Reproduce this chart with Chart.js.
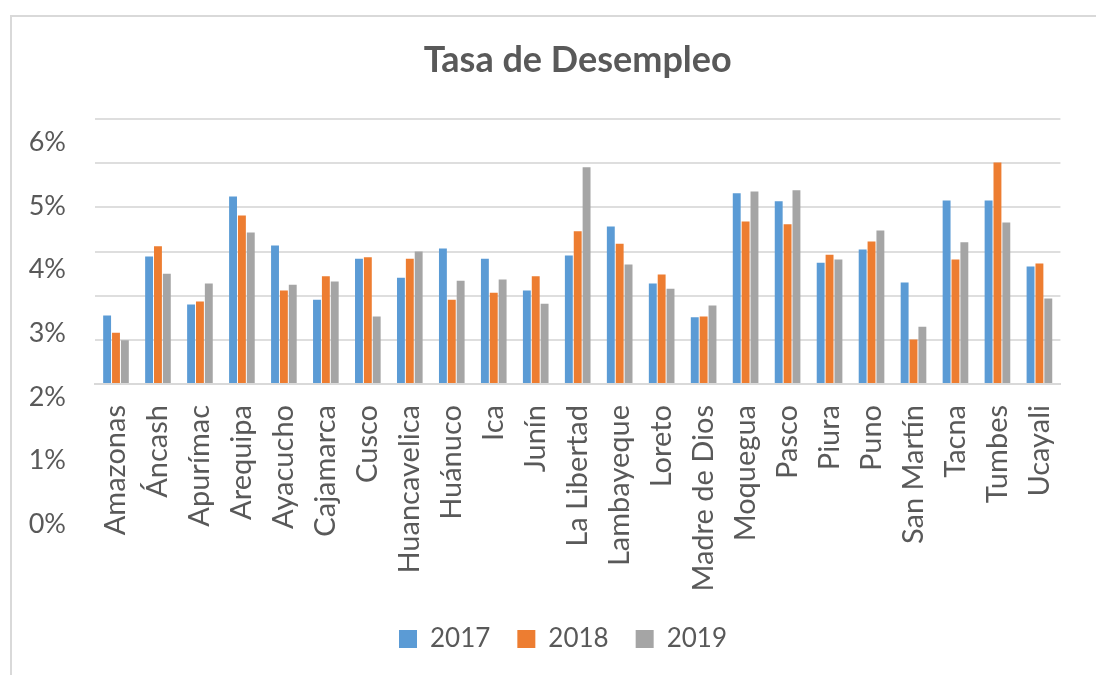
<!DOCTYPE html>
<html lang="es">
<head>
  <meta charset="UTF-8">
  <title>Tasa de Desempleo</title>
  <script src="https://cdn.jsdelivr.net/npm/chart.js"></script>
  <style>
    body { margin: 0; background: #fff; }
    #marco { position: absolute; left: 10px; top: 15px; width: 1200px; height: 800px; border: 2px solid #d9d9d9; }
    #grafico { position: absolute; left: 0; top: 0; }
  </style>
</head>
<body>
  <div id="marco"></div>
  <canvas id="grafico" width="1096" height="675"></canvas>

  <script>
    // datos (tasa en %)
    const regiones = ['Amazonas', 'Áncash', 'Apurímac', 'Arequipa', 'Ayacucho', 'Cajamarca', 'Cusco',
      'Huancavelica', 'Huánuco', 'Ica', 'Junín', 'La Libertad', 'Lambayeque', 'Loreto', 'Madre de Dios',
      'Moquegua', 'Pasco', 'Piura', 'Puno', 'San Martín', 'Tacna', 'Tumbes', 'Ucayali'];
    const anios = ['2017', '2018', '2019'];
    const tasa2017 = [1.55, 2.89, 1.80, 4.25, 3.14, 1.91, 2.84, 2.41, 3.07, 2.84, 2.12, 2.91, 3.57, 2.28, 1.51, 4.32, 4.14, 2.75, 3.05, 2.30, 4.16, 4.16, 2.66];
    const tasa2018 = [1.16, 3.12, 1.87, 3.82, 2.12, 2.44, 2.87, 2.84, 1.91, 2.07, 2.44, 3.46, 3.18, 2.48, 1.53, 3.68, 3.62, 2.93, 3.23, 1.01, 2.82, 5.02, 2.73];
    const tasa2019 = [0.99, 2.50, 2.28, 3.43, 2.25, 2.32, 1.53, 3.00, 2.34, 2.37, 1.82, 4.91, 2.71, 2.16, 1.78, 4.36, 4.39, 2.82, 3.48, 1.30, 3.21, 3.66, 1.94];
    const ejeY = [0, 1, 2, 3, 4, 5, 6];

    const colores = ['#5B9BD5', '#ED7D31', '#A5A5A5'];
    const gris = '#595959';

    // etiquetas del eje Y (en el original quedan desfasadas de la cuadricula)
    const etiquetasY = {
      id: 'etiquetasY',
      afterDraw(chart) {
        const ctx = chart.ctx;
        const area = chart.chartArea;
        const y = chart.scales.y;
        const paso = 63.7;
        const arriba = area.top + 23;
        ctx.save();
        ctx.font = '27px Lato';
        ctx.fillStyle = gris;
        ctx.textAlign = 'right';
        ctx.textBaseline = 'middle';
        y.ticks.forEach(t => {
          ctx.fillText(t.value + '%', area.left - 29, arriba + (y.max - t.value) * paso);
        });
        ctx.restore();
      }
    };

    const ctx = document.getElementById('grafico').getContext('2d');
    new Chart(ctx, {
      type: 'bar',
      data: {
        labels: regiones,
        datasets: [
          { label: anios[0], data: tasa2017, backgroundColor: colores[0] },
          { label: anios[1], data: tasa2018, backgroundColor: colores[1] },
          { label: anios[2], data: tasa2019, backgroundColor: colores[2] }
        ]
      },
      options: {
        responsive: false,
        animation: false,
        categoryPercentage: 0.634,
        barPercentage: 0.89,
        layout: { padding: { left: 50, right: 20, top: 15, bottom: 13 } },
        plugins: {
          title: {
            display: true,
            text: 'Tasa de Desempleo',
            fullSize: false,
            color: gris,
            font: { family: 'Lato', size: 36, weight: 'bold' },
            padding: { top: 24, bottom: 37 }
          },
          legend: {
            position: 'bottom',
            labels: {
              color: gris,
              font: { family: 'Lato', size: 26 },
              boxWidth: 18,
              boxHeight: 18,
              padding: 27
            }
          },
          tooltip: { enabled: false }
        },
        scales: {
          x: {
            grid: { display: false, drawTicks: false },
            border: { display: true, color: '#d9d9d9', width: 2 },
            ticks: {
              color: gris,
              font: { family: 'Lato', size: 29 },
              minRotation: 90,
              maxRotation: 90,
              autoSkip: false,
              padding: 21
            },
            afterFit(s) { s.height = 215; }
          },
          y: {
            min: ejeY[0],
            max: ejeY[ejeY.length - 1],
            ticks: { stepSize: 1, display: false },
            grid: { color: '#dedede', lineWidth: 2, drawTicks: false },
            border: { display: false },
            afterFit(s) { s.width = 45; }
          }
        }
      },
      plugins: [etiquetasY]
    });
  </script>
</body>
</html>
